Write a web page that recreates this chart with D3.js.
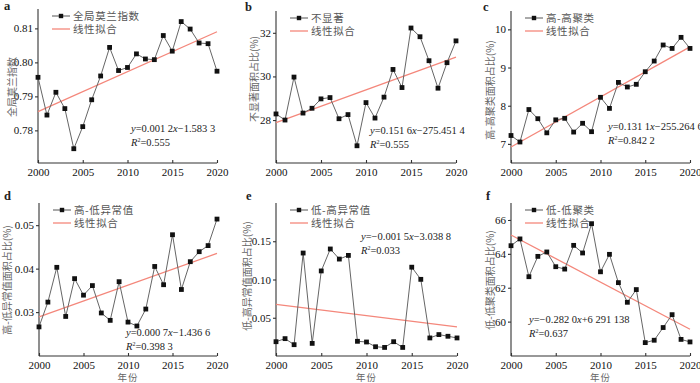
<!DOCTYPE html>
<html>
<head>
<meta charset="utf-8">
<script src="https://cdn.jsdelivr.net/npm/d3@7"></script>
<style>
  body { margin: 0; background: #fff; }
  svg { display: block; }
  .tick text { font-family: "Liberation Serif", "DejaVu Serif", serif; font-size: 11px; fill: #111; }
  .domain, .tick line { stroke: #333; stroke-width: 1.1; }
</style>
</head>
<body>
<div id="chart"></div>
<script>
// data
var years = d3.range(2000, 2021);
var moranA = [0.7956, 0.7845, 0.7912, 0.7864, 0.7746, 0.7811, 0.7890, 0.7960, 0.8044, 0.7976, 0.7985,
              0.8025, 0.8010, 0.8008, 0.8079, 0.8033, 0.8120, 0.8098, 0.8057, 0.8055, 0.7974];
var notSigB = [28.28, 28.00, 29.97, 28.32, 28.54, 28.97, 29.03, 28.06, 28.25, 26.82, 28.80,
               28.09, 29.05, 30.32, 29.49, 32.22, 31.82, 30.72, 29.46, 30.63, 31.63];
var highHighC = [7.22, 7.05, 7.90, 7.66, 7.29, 7.63, 7.67, 7.31, 7.54, 7.32, 8.22,
                 7.93, 8.61, 8.49, 8.56, 8.89, 9.17, 9.59, 9.50, 9.79, 9.50];
var highLowD = [0.0266, 0.0323, 0.0403, 0.0290, 0.0377, 0.0339, 0.0361, 0.0298, 0.0281, 0.0370, 0.0277,
                0.0268, 0.0307, 0.0405, 0.0363, 0.0478, 0.0352, 0.0416, 0.0439, 0.0453, 0.0514];
var lowHighE = [0.0187, 0.0227, 0.0148, 0.1346, 0.0165, 0.1112, 0.1399, 0.1267, 0.1315, 0.0192, 0.0183,
                0.0121, 0.0112, 0.0187, 0.0112, 0.1161, 0.1002, 0.0236, 0.0280, 0.0258, 0.0236];
var lowLowF = [64.48, 64.88, 62.65, 63.85, 64.11, 63.24, 63.10, 64.50, 64.05, 65.78, 62.94,
               63.97, 62.30, 61.14, 61.89, 58.76, 58.90, 59.65, 60.41, 58.95, 58.80];

// fitted line at 2000 and 2020
var fitA = [0.7855, 0.8090];
var fitB = [27.88, 30.89];
var fitC = [6.92, 9.54];
var fitD = [0.0289, 0.0435];
var fitE = [0.0676, 0.0381];
var fitF = [65.11, 59.55];

var xTicks = [2000, 2005, 2010, 2015, 2020];
var ticksA = [0.78, 0.79, 0.80, 0.81];
var ticksB = [28, 30, 32];
var ticksC = [7, 8, 9, 10];
var ticksD = [0.03, 0.04, 0.05];
var ticksE = [0.05, 0.10, 0.15];
var ticksF = [60, 62, 64, 66];

var letters = ["a", "b", "c", "d", "e", "f"];
var seriesNames = ["全局莫兰指数", "不显著", "高-高聚类", "高-低异常值", "低-高异常值", "低-低聚类"];
var yTitles = ["全局莫兰指数", "不显著面积占比(%)", "高-高聚类面积占比(%)",
               "高-低异常值面积占比(%)", "低-高异常值面积占比(%)", "低-低聚类面积占比(%)"];
var equations = [
  ["0.001 2", "−1.583 3", "0.555"],
  ["0.151 6", "−275.451 4", "0.555"],
  ["0.131 1", "−255.264 6", "0.842 2"],
  ["0.000 7", "−1.436 6", "0.398 3"],
  ["−0.001 5", "−3.038 8", "0.033"],
  ["−0.282 0", "+6 291 138", "0.637"]
];

var values = [moranA, notSigB, highHighC, highLowD, lowHighE, lowLowF];
var fits = [fitA, fitB, fitC, fitD, fitE, fitF];
var yTicks = [ticksA, ticksB, ticksC, ticksD, ticksE, ticksF];

// layout of each panel
var panels = [
  { x0: 38,  x1: 217, top: 9,   bot: 163, dom: [0.7704, 0.8157], fmt: ".2f", letter: [4, 10],   title: [16, 87],   eq: [131, 132] },
  { x0: 276, x1: 456, top: 11,  bot: 163, dom: [26.03, 33.0],    fmt: "d",   letter: [245, 11], title: [258, 79],  eq: [370, 134] },
  { x0: 511, x1: 690, top: 11,  bot: 163, dom: [6.5, 10.48],     fmt: "d",   letter: [483, 11], title: [494, 90],  eq: [608, 130] },
  { x0: 39,  x1: 217, top: 203, bot: 356, dom: [0.0199, 0.0551], fmt: ".2f", letter: [4, 200],  title: [11, 280],  eq: [126, 336] },
  { x0: 276, x1: 457, top: 203, bot: 356, dom: [0, 0.2],         fmt: ".2f", letter: [246, 200], title: [251, 276], eq: [361, 240] },
  { x0: 511, x1: 690, top: 203, bot: 356, dom: [57.97, 67.0],    fmt: "d",   letter: [486, 200], title: [494, 280], eq: [529, 323] }
];

var svg = d3.select("#chart").append("svg")
    .attr("width", 700)
    .attr("height", 383);

var serif = '"Liberation Serif", "DejaVu Serif", serif';
var cjk = '"Noto Sans CJK SC", sans-serif';

panels.forEach(function(p, i) {
    var x = d3.scaleLinear().domain([2000, 2020]).range([p.x0, p.x1]);
    var y = d3.scaleLinear().domain(p.dom).range([p.bot, p.top]);
    var g = svg.append("g");

    // axes
    g.append("g")
        .attr("transform", "translate(0," + p.bot + ")")
        .call(d3.axisBottom(x).tickValues(xTicks).tickFormat(d3.format("d")).tickSize(-3).tickPadding(5))
        .call(function(a) { a.select(".domain").attr("d", "M" + p.x0 + ",0H" + p.x1); });
    g.append("g")
        .attr("transform", "translate(" + p.x0 + ",0)")
        .call(d3.axisLeft(y).tickValues(yTicks[i]).tickFormat(d3.format(p.fmt)).tickSize(3).tickPadding(2))
        .call(function(a) { a.select(".domain").attr("d", "M0," + p.top + "V" + p.bot); });

    // fit line
    g.append("line")
        .attr("x1", x(2000)).attr("x2", x(2020))
        .attr("y1", y(fits[i][0])).attr("y2", y(fits[i][1]))
        .attr("stroke", "#f4877b").attr("stroke-width", 1.3);

    // series
    var line = d3.line().x(function(d, j) { return x(years[j]); }).y(function(d) { return y(d); });
    g.append("path").datum(values[i])
        .attr("d", line).attr("fill", "none")
        .attr("stroke", "#666").attr("stroke-width", 1);
    g.selectAll("rect.pt").data(values[i]).enter().append("rect")
        .attr("class", "pt")
        .attr("x", function(d, j) { return x(years[j]) - 2.4; })
        .attr("y", function(d) { return y(d) - 2.4; })
        .attr("width", 4.8).attr("height", 4.8)
        .attr("fill", "#111");

    // legend
    var lx = p.x0 + 14, ly = p.top + 7;
    g.append("line").attr("x1", lx).attr("x2", lx + 18).attr("y1", ly).attr("y2", ly)
        .attr("stroke", "#555").attr("stroke-width", 1);
    g.append("rect").attr("x", lx + 6.8).attr("y", ly - 2.2).attr("width", 4.4).attr("height", 4.4).attr("fill", "#111");
    g.append("text").attr("x", lx + 21).attr("y", ly + 4).text(seriesNames[i])
        .attr("font-family", cjk).attr("font-size", 10.5).attr("letter-spacing", 0.6).attr("fill", "#555");
    g.append("line").attr("x1", lx).attr("x2", lx + 18).attr("y1", ly + 13).attr("y2", ly + 13)
        .attr("stroke", "#f4877b").attr("stroke-width", 1.3);
    g.append("text").attr("x", lx + 21).attr("y", ly + 17).text("线性拟合")
        .attr("font-family", cjk).attr("font-size", 10.5).attr("letter-spacing", 0.6).attr("fill", "#555");

    // equation
    var eq = g.append("text").attr("x", p.eq[0]).attr("y", p.eq[1])
        .attr("font-family", serif).attr("font-size", 10.5).attr("fill", "#222");
    eq.append("tspan").attr("font-style", "italic").text("y");
    eq.append("tspan").text("=" + equations[i][0]);
    eq.append("tspan").attr("font-style", "italic").text("x");
    eq.append("tspan").text(equations[i][1]);
    var r2 = g.append("text").attr("x", p.eq[0]).attr("y", p.eq[1] + 14)
        .attr("font-family", serif).attr("font-size", 10.5).attr("fill", "#222");
    r2.append("tspan").attr("font-style", "italic").text("R");
    r2.append("tspan").attr("font-size", 6).attr("dy", -4).text("2");
    r2.append("tspan").attr("dy", 4).text("=" + equations[i][2]);

    // y title
    g.append("text")
        .attr("transform", "translate(" + p.title[0] + "," + p.title[1] + ") rotate(-90)")
        .attr("text-anchor", "middle")
        .attr("font-family", cjk).attr("font-size", 10).attr("fill", "#666")
        .text(yTitles[i]);

    // panel letter
    g.append("text").attr("x", p.letter[0]).attr("y", p.letter[1])
        .attr("font-family", serif).attr("font-size", 12.5).attr("font-weight", "bold").attr("fill", "#222")
        .text(letters[i]);

    if (p.top > 100) {
        g.append("text").attr("x", (p.x0 + p.x1) / 2).attr("y", 381)
            .attr("text-anchor", "middle")
            .attr("font-family", cjk).attr("font-size", 9.5).attr("letter-spacing", 1).attr("fill", "#666")
            .text("年份");
    }
});
</script>
</body>
</html>
